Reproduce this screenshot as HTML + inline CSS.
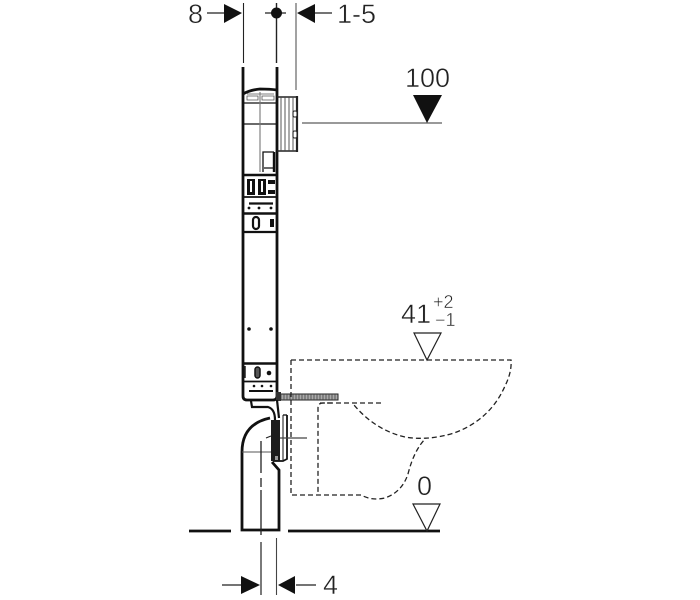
<!DOCTYPE html>
<html><head><meta charset="utf-8"><style>
html,body{margin:0;padding:0;background:#fff}
svg{display:block}
text{font-family:"Liberation Sans",sans-serif;fill:#222;stroke:#fff;stroke-width:.45px;paint-order:normal}
</style></head><body>
<svg width="700" height="600" viewBox="0 0 700 600" xmlns="http://www.w3.org/2000/svg">
<!-- top dimension -->
<text x="188" y="23" font-size="27">8</text>
<text x="337" y="23" font-size="27">1-5</text>
<g stroke="#222" fill="none">
<path d="M207 13H226" stroke-width="1.300"/>
<path d="M243.500 3V63" stroke-width="1.100"/>
<path d="M276.500 3V63" stroke-width="1.400"/>
<path d="M265 13H286" stroke-width="1.200"/>
<path d="M296 3V90" stroke-width="1.100" stroke="#555"/>
<path d="M312 13H332" stroke-width="1.300"/>
</g>
<path d="M224 4L242 13L224 23Z" fill="#111"/>
<path d="M297 13L315 4V23Z" fill="#111"/>
<circle cx="276.500" cy="13" r="5.500" fill="#111"/>
<!-- 100 -->
<text x="405" y="87" font-size="27">100</text>
<path d="M413 95H442L427 123Z" fill="#111"/>
<path d="M302 123H442" stroke="#333" stroke-width="1.100" fill="none"/>
<!-- frame -->
<g fill="none" stroke="#111">
<path d="M243 67V396Q243 400 247 400H273Q277 400 277 396V67" stroke-width="2.800"/>
<path d="M243 94Q250 90 260 89Q270 89 277 90" stroke-width="2.800"/>
<path d="M244 103H276M244 124H276" stroke-width="1.200"/>
<path d="M247 96H258V100H247ZM262 96H274V100H262Z" stroke-width="0.800" stroke="#555"/>
<path d="M247 94H274" stroke-width="0.800" stroke="#555"/>
<path d="M260 92V172" stroke-width="1.100" stroke="#777"/>
<path d="M263 172V152H274M264 168H274" stroke-width="1.300"/>
<path d="M274 152V172" stroke-width="2.400"/>
<path d="M244 175H276" stroke-width="2.600"/>
<path d="M244 197H276" stroke-width="1.700"/>
<path d="M244 213.500H276" stroke-width="2.600"/>
<path d="M244 232H276" stroke-width="2.200"/>
<path d="M249 203.500H273" stroke-width="2.200"/>
<path d="M244 363.500H276" stroke-width="2.600"/>
<path d="M244 381.500H276" stroke-width="1.700"/>
<path d="M249 391H273" stroke-width="2"/>
<path d="M245 366V378" stroke-width="1.400"/>
</g>
<g fill="#111">
<rect x="247" y="179" width="8" height="16"/>
<rect x="258" y="179" width="8" height="16"/>
<rect x="268" y="180" width="7" height="4"/>
<rect x="268" y="190" width="7" height="4"/>
<rect x="270" y="219" width="4" height="8"/>
<circle cx="249" cy="208" r="1.400"/><circle cx="259" cy="208" r="1.400"/><circle cx="271" cy="208" r="1.400"/>
<circle cx="249" cy="329" r="1.800"/><circle cx="271" cy="329" r="1.800"/>
<circle cx="254" cy="386" r="1.300"/><circle cx="262" cy="386" r="1.300"/><circle cx="271" cy="386" r="1.300"/>
<circle cx="269" cy="373" r="2.300"/>
</g>
<rect x="253" y="217" width="6" height="12" rx="3" fill="#fff" stroke="#111" stroke-width="2.200"/>
<rect x="255" y="367" width="5" height="11" rx="2.500" fill="#555" stroke="#111" stroke-width="1.500"/>
<rect x="250" y="181" width="2" height="11" fill="#fff"/>
<rect x="261" y="181" width="2" height="11" fill="#fff"/>
<!-- side box -->
<g fill="none" stroke="#222">
<path d="M277 97H297V151H277" stroke-width="1.500"/>
<path d="M297 96V152" stroke-width="2.200"/>
<path d="M281 97V151M285 97V151M289 97V151M293 97V151" stroke-width="0.900" stroke="#444"/>
<rect x="293" y="111" width="4" height="6" rx="1.500" fill="#fff" stroke-width="1.100"/>
<rect x="293" y="131" width="4" height="7" rx="1.500" fill="#fff" stroke-width="1.100"/>
</g>
<!-- screw -->
<rect x="279" y="394" width="59" height="6" fill="#aaa" stroke="#222" stroke-width="1"/>
<path d="M281 394V400M284 394V400M287 394V400M290 394V400M293 394V400M296 394V400M299 394V400M302 394V400M305 394V400M308 394V400M311 394V400M314 394V400M317 394V400M320 394V400M323 394V400M326 394V400M329 394V400M332 394V400M335 394V400" stroke="#444" stroke-width="0.800"/>
<rect x="276" y="392" width="5" height="9" fill="#333"/>
<!-- pipe -->
<g fill="none" stroke="#111">
<path d="M251 401L252 407H268Q275 409 275 420" stroke-width="2.200"/>
<path d="M277 400L279 418" stroke-width="2.200"/>
<path d="M270 418Q242 424 242 452V530H279V470L272 462" stroke-width="2.800"/>
<path d="M242 452H272" stroke-width="1.100" stroke="#555"/>
<path d="M287 415V459L283 461H273" stroke-width="1.800"/>
<path d="M283 415H287" stroke-width="1.300"/>
<path d="M283 415V460" stroke-width="1"/>
<path d="M278 438H307" stroke-width="1.300" stroke="#444"/>
</g>
<rect x="271" y="420" width="9" height="41" fill="#1c1c1c"/>
<rect x="275" y="456" width="3" height="4" fill="#999"/>
<!-- centre line -->
<path d="M261 441V473M261 478V487M261 490V535" stroke="#222" stroke-width="1.300" fill="none"/>
<path d="M266 438L271 436" stroke="#222" stroke-width="1.100" fill="none"/>
<!-- floor -->
<path d="M189 531H231M288 531H440" stroke="#111" stroke-width="2.800" fill="none"/>
<path d="M413 504H440L427 531Z" fill="none" stroke="#222" stroke-width="1.200"/>
<text x="417" y="495" font-size="27">0</text>
<!-- dashed WC -->
<g fill="none" stroke="#222" stroke-width="1.300" stroke-dasharray="5 3">
<path d="M291 360H511Q512 372 505 386Q490 420 454 433Q428 441 405 437Q375 430 354 405"/>
<path d="M320 403H381"/>
<path d="M332 403H323Q318 403 318 408V494"/>
<path d="M291 360V495H361Q372 501 385 498Q402 492 408 474Q414 450 426 438"/>
</g>
<!-- 41 -->
<path d="M414 333H441L427 360Z" fill="none" stroke="#222" stroke-width="1.200"/>
<text x="401" y="323" font-size="27">41</text>
<text x="433" y="308" font-size="18">+2</text>
<text x="435" y="326" font-size="18">−1</text>
<!-- bottom dimension -->
<g fill="none" stroke="#222">
<path d="M261 542V595" stroke-width="1.200"/>
<path d="M276.500 538V595" stroke-width="1.100" stroke="#444"/>
<path d="M222 585H242M296 585H316" stroke-width="1.200"/>
</g>
<path d="M241 576L260 585L241 594Z" fill="#111"/>
<path d="M278 585L295 576V594Z" fill="#111"/>
<text x="323" y="594" font-size="27">4</text>
</svg>
</body></html>
